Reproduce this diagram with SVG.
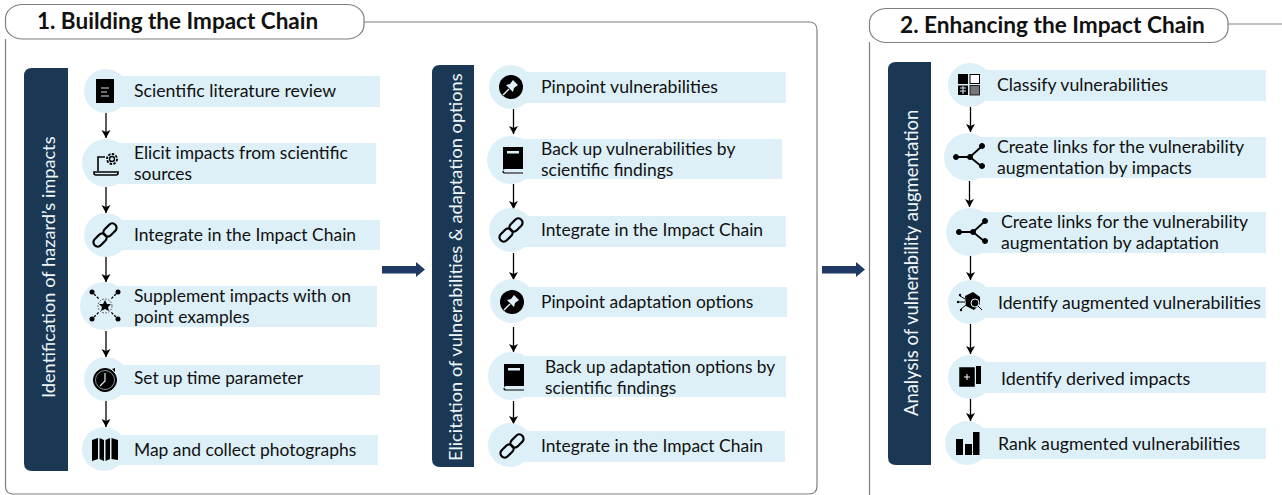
<svg xmlns="http://www.w3.org/2000/svg" width="1282" height="495" viewBox="0 0 1282 495">
<style>
text{font-family:Lato,"Open Sans","Liberation Sans",sans-serif;fill:#111}
.t{font-size:17.45px}
.u{font-size:17.7px}
.h{font-size:22.5px;font-weight:700}
.v{font-size:18.2px;fill:#eef5f9}
.c{fill:#ddf0f8}
.b{fill:#1a3853}
.f{fill:none;stroke:#7f7f7f;stroke-width:1.2}
.a{stroke:#000;stroke-width:1.3;fill:none;marker-end:url(#ah)}
.big{fill:#1f3864}
.ln{fill:none;stroke:#000;stroke-width:1.6}
</style>
<defs>
<marker id="ah" markerUnits="userSpaceOnUse" markerWidth="9" markerHeight="10" refX="8" refY="4.5" orient="auto"><path d="M0 0L8 4.500L0 9L2 4.500Z" fill="#000"/></marker>
<g id="i-link" fill="none" stroke="#000" stroke-width="2.200"><rect x="-12.500" y="0.700" width="15" height="8.600" rx="4.300" transform="rotate(-45 -5 5)"/><rect x="-2.500" y="-9.300" width="15" height="8.600" rx="4.300" transform="rotate(-45 5 -5)"/></g>
<g id="i-pin"><circle r="12" fill="#000"/><path d="M-8 8L-2 2" stroke="#ddf0f8" stroke-width="1.400"/><path d="M-5 -2L2 5L3 1L7 -2L2 -7L-1 -3Z" fill="#ddf0f8"/></g>
<g id="i-book"><path d="M-10 -13H10V9H-8Q-10 9 -10 11Z" fill="#000"/><path d="M-10 11Q-10 13 -8 13H10" fill="none" stroke="#000" stroke-width="1.200"/><rect x="-6" y="-9" width="12" height="2.500" fill="#ddf0f8"/></g>
<g id="i-net" fill="#000" stroke="#000"><path d="M-13 0H0L11 -10M0 0L11 9" fill="none" stroke-width="1.800"/><circle cx="-14" r="2.500"/><circle r="2.500"/><circle cx="12" cy="-11" r="2.500"/><circle cx="12" cy="9" r="2.500"/></g>
</defs>

<g id="connectors">
<path class="f" d="M5.500 39V486Q5.500 494 13 494H809Q817 494 817 486V30Q817 22 809 22H364"/>
<path class="f" d="M869.500 42V495M1228 24H1282"/>
<path class="a" d="M106 113V138"/><path class="a" d="M106 187V213"/><path class="a" d="M106 256V282"/><path class="a" d="M106 331V357"/><path class="a" d="M106 401V427"/>
<path class="a" d="M513.500 109V134"/><path class="a" d="M513.500 184V209"/><path class="a" d="M513.500 253V280"/><path class="a" d="M513.500 327V352"/><path class="a" d="M513.500 401V424"/>
<path class="a" d="M970.500 107V132"/><path class="a" d="M969.500 181V207"/><path class="a" d="M970.500 256V280"/><path class="a" d="M970.500 324V354"/><path class="a" d="M970.500 399V421"/>
<path class="big" d="M382 266H416V262L425 269.500L416 277V273.500H382Z"/>
<path class="big" d="M822 266H856V262L865 269.500L856 277V273.500H822Z"/>
</g>

<g id="title1"><rect x="5.500" y="4.500" width="358.500" height="34.500" rx="17" ry="14" fill="#fff" stroke="#7f7f7f" stroke-width="1.200"/><text class="h" x="37" y="29">1. Building the Impact Chain</text></g>
<g id="title2"><rect x="869.500" y="8.500" width="358.500" height="34" rx="17" ry="14" fill="#fff" stroke="#7f7f7f" stroke-width="1.200"/><text class="h" x="900" y="32.500" style="font-size:22.65px">2. Enhancing the Impact Chain</text></g>

<g id="bar1"><path class="b" d="M68 68V471H32Q24 471 24 463V76Q24 68 32 68Z"/><text class="v" transform="translate(54.500 398) rotate(-90)">Identification of hazard’s impacts</text></g>
<g id="bar2"><path class="b" d="M474 65V467H440Q432 467 432 459V73Q432 65 440 65Z"/><text class="v" transform="translate(461.500 461) rotate(-90)">Elicitation of vulnerabilities &amp; adaptation options</text></g>
<g id="bar3"><path class="b" d="M931 62V465H896Q888 465 888 457V70Q888 62 896 62Z"/><text class="v" transform="translate(918 416) rotate(-90)" style="font-size:18.4px">Analysis of vulnerability augmentation</text></g>

<g id="n1"><rect class="c" x="106" y="76" width="274" height="31"/><circle class="c" cx="106" cy="91" r="22"/><rect x="96" y="79" width="18" height="24" fill="#000"/><path d="M101 88H109M101 92H107M101 96H109" stroke="#ddd" stroke-width="1"/><text class="u" x="134" y="97">Scientific literature review</text></g>
<g id="n2"><rect class="c" x="106" y="143" width="270" height="41"/><circle class="c" cx="106" cy="163" r="24"/><path d="M105 157H98V171M94 172H118V173Q118 175 116 175H96Q94 175 94 173Z" class="ln"/><circle cx="112" cy="159" r="2.500" fill="none" stroke="#000" stroke-width="1.400"/><circle cx="112" cy="159" r="5" fill="none" stroke="#000" stroke-width="1.800" stroke-dasharray="2.500 1.300"/><text class="t"><tspan x="134" y="159">Elicit impacts from scientific</tspan><tspan x="134" y="180">sources</tspan></text></g>
<g id="n3"><rect class="c" x="106" y="220" width="274" height="30"/><circle class="c" cx="106" cy="235" r="22"/><use href="#i-link" x="105" y="235"/><text class="t" x="134" y="241">Integrate in the Impact Chain</text></g>
<g id="n4"><rect class="c" x="103" y="286" width="274" height="41"/><circle class="c" cx="104" cy="306" r="24"/><g fill="#000"><circle cx="92" cy="292" r="2.500"/><circle cx="118" cy="292" r="2.500"/><circle cx="92" cy="319" r="2.500"/><circle cx="118" cy="319" r="2.500"/><path d="M105 300L107 304L111 304L108 307L109 311L105 309L101 311L102 307L99 304L103 304Z"/></g><circle cx="105" cy="306" r="7" fill="none" stroke="#444" stroke-dasharray="1.500 1.500"/><path d="M94 294L99 299M116 294L111 299M94 317L99 312M116 317L111 312" stroke="#000" stroke-width="1.300" stroke-dasharray="2.500 1.500"/><text class="t"><tspan x="134" y="302">Supplement impacts with on</tspan><tspan x="134" y="323">point examples</tspan></text></g>
<g id="n5"><rect class="c" x="106" y="365" width="274" height="30"/><circle class="c" cx="106" cy="379" r="22"/><circle cx="105" cy="380" r="11.500" fill="#000" stroke="#000" stroke-width="1"/><circle cx="105" cy="380" r="9.500" fill="none" stroke="#ddf0f8" stroke-width=".6"/><path d="M105 373V381L100 386" fill="none" stroke="#ddf0f8" stroke-width="1.200"/><path d="M112 369L115 368V372Z" fill="#000"/><text class="t" x="134" y="384" style="font-size:17.3px">Set up time parameter</text></g>
<g id="n6"><rect class="c" x="103" y="435" width="275" height="30"/><circle class="c" cx="104" cy="449" r="22"/><path d="M92 440L98 438V459L92 461ZM99.500 438L104 440V461L99.500 459ZM105.500 440L110 438V459L105.500 461ZM111.500 438L118 440V460L111.500 459Z" fill="#000"/><text class="t" x="134" y="456">Map and collect photographs</text></g>

<g id="n7"><rect class="c" x="511" y="72" width="275" height="31"/><circle class="c" cx="511" cy="87" r="22"/><use href="#i-pin" x="511" y="87"/><text class="u" x="541" y="93">Pinpoint vulnerabilities</text></g>
<g id="n8"><rect class="c" x="511" y="139" width="271" height="40"/><circle class="c" cx="511" cy="160" r="24"/><use href="#i-book" x="513" y="160"/><text class="t"><tspan x="541" y="155">Back up vulnerabilities by</tspan><tspan x="541" y="176">scientific findings</tspan></text></g>
<g id="n9"><rect class="c" x="511" y="216" width="275" height="31"/><circle class="c" cx="511" cy="230" r="22"/><use href="#i-link" x="511" y="230"/><text class="t" x="541" y="236">Integrate in the Impact Chain</text></g>
<g id="n10"><rect class="c" x="512" y="287" width="275" height="30"/><circle class="c" cx="512" cy="301" r="22"/><use href="#i-pin" x="512" y="302"/><text class="t" x="541" y="308">Pinpoint adaptation options</text></g>
<g id="n11"><rect class="c" x="512" y="356" width="274" height="41"/><circle class="c" cx="512" cy="376" r="24"/><use href="#i-book" x="514" y="377"/><text class="t" style="font-size:17.3px"><tspan x="545" y="373">Back up adaptation options by</tspan><tspan x="545" y="394">scientific findings</tspan></text></g>
<g id="n12"><rect class="c" x="510" y="431" width="275" height="31"/><circle class="c" cx="510" cy="445" r="22"/><use href="#i-link" x="512" y="446"/><text class="t" x="541" y="452">Integrate in the Impact Chain</text></g>

<g id="n13"><rect class="c" x="970" y="70" width="296" height="31"/><circle class="c" cx="970" cy="85" r="22"/><rect x="958" y="74" width="10" height="10" fill="#000"/><rect x="970" y="74.500" width="9.500" height="9" fill="#fff" stroke="#000"/><rect x="958" y="85.500" width="10" height="9.500" fill="#000"/><path d="M960 88H966M960 91H966M963 86V94" stroke="#ddf0f8"/><rect x="970" y="85.500" width="9.500" height="9.500" fill="#777" stroke="#000" stroke-width=".8"/><text class="u" x="997" y="91">Classify vulnerabilities</text></g>
<g id="n14"><rect class="c" x="968" y="137" width="298" height="41"/><circle class="c" cx="968" cy="157" r="24"/><use href="#i-net" x="970" y="157"/><text class="u"><tspan x="997" y="153">Create links for the vulnerability</tspan><tspan x="997" y="174">augmentation by impacts</tspan></text></g>
<g id="n15"><rect class="c" x="970" y="212" width="296" height="41"/><circle class="c" cx="970" cy="232" r="24"/><use href="#i-net" x="973" y="232"/><text class="u"><tspan x="1001" y="228">Create links for the vulnerability</tspan><tspan x="1001" y="249">augmentation by adaptation</tspan></text></g>
<g id="n16"><rect class="c" x="970" y="287" width="296" height="31"/><circle class="c" cx="970" cy="302" r="22"/><path d="M965 296L973 292L980 297V304L974 310L966 306Z" fill="#000"/><circle cx="975" cy="303" r="4" fill="none" stroke="#ddf0f8"/><path d="M958 302H965M960 296L965 299M961 309L966 305M978 306L982 310" stroke="#000" stroke-width="1"/><circle cx="958" cy="302" r="1.200"/><circle cx="960" cy="295" r="1.200"/><circle cx="961" cy="310" r="1.200"/><text class="u" x="998" y="309">Identify augmented vulnerabilities</text></g>
<g id="n17"><rect class="c" x="970" y="362" width="296" height="31"/><circle class="c" cx="970" cy="377" r="22"/><path d="M976 366H981V384H976Z" fill="#000"/><rect x="959" y="367" width="16" height="20" fill="#000" stroke="#ddf0f8" stroke-width=".5"/><path d="M964 377H970M967 374V380" stroke="#fff"/><text class="u" x="1001" y="385" style="font-size:17.95px">Identify derived impacts</text></g>
<g id="n18"><rect class="c" x="967" y="428" width="299" height="31"/><circle class="c" cx="967" cy="443" r="22"/><path d="M956 439H963V455H956ZM965 444H972V455H965ZM973 432H979.500V455H973Z" fill="#000"/><text class="u" x="998" y="450">Rank augmented vulnerabilities</text></g>
</svg>
